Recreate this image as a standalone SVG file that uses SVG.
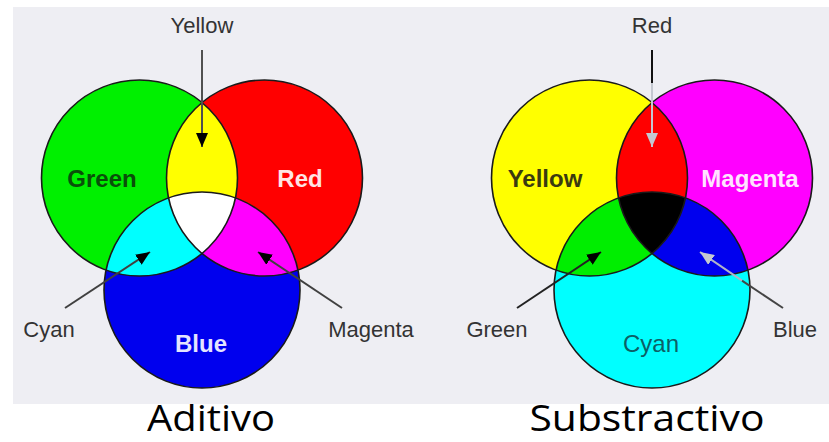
<svg xmlns="http://www.w3.org/2000/svg" width="829" height="442" viewBox="0 0 829 442">
<style>
.out{fill:none;stroke:#1a1a1a;stroke-width:1.6}
.lbl{font-family:"Liberation Sans",Arial,sans-serif;font-size:22px;fill:#333;text-anchor:middle}
.big{font-family:"Liberation Sans",Arial,sans-serif;font-size:24px;font-weight:bold;text-anchor:middle}
.title{font-family:"Open Sans","Noto Sans",sans-serif;font-size:36px;fill:#000;text-anchor:middle}
.conn{fill:none;stroke-width:2}
</style>
<defs>
<clipPath id="cG"><circle cx="139.5" cy="178" r="98"/></clipPath>
<clipPath id="cR"><circle cx="264.5" cy="178" r="98"/></clipPath>
<clipPath id="cY"><circle cx="589.5" cy="178" r="98"/></clipPath>
<clipPath id="cM"><circle cx="714.5" cy="178" r="98"/></clipPath>
<marker id="hb" viewBox="0 0 14 12" refX="14" refY="6" markerWidth="14" markerHeight="12" markerUnits="userSpaceOnUse" orient="auto"><path d="M0,0L14,6L0,12z" fill="#000"/></marker>
<marker id="hg" viewBox="0 0 14 12" refX="14" refY="6" markerWidth="14" markerHeight="12" markerUnits="userSpaceOnUse" orient="auto"><path d="M0,0L14,6L0,12z" fill="#c4c8d0"/></marker>
</defs>
<rect x="13" y="7" width="816" height="397" fill="#eeeef3"/>

<g id="additive">
<g id="add-green"><circle cx="139.5" cy="178" r="98" fill="#00f000"/></g>
<g id="add-red"><circle cx="264.5" cy="178" r="98" fill="#ff0000"/></g>
<g id="add-blue"><circle cx="202" cy="290" r="98" fill="#0000ee"/></g>
<g id="add-yellow"><circle cx="264.5" cy="178" r="98" fill="#ffff00" clip-path="url(#cG)"/></g>
<g id="add-cyan"><circle cx="202" cy="290" r="98" fill="#00ffff" clip-path="url(#cG)"/></g>
<g id="add-magenta"><circle cx="202" cy="290" r="98" fill="#ff00ff" clip-path="url(#cR)"/></g>
<g id="add-white" clip-path="url(#cR)"><circle cx="202" cy="290" r="98" fill="#ffffff" clip-path="url(#cG)"/></g>
<circle class="out" cx="139.5" cy="178" r="98"/>
<circle class="out" cx="264.5" cy="178" r="98"/>
<circle class="out" cx="202" cy="290" r="98"/>
<text class="big" x="102" y="187" fill="#0a4f0a">Green</text>
<text class="big" x="300" y="187" fill="#ffe4e4">Red</text>
<text class="big" x="201" y="352" fill="#e4e4ff">Blue</text>
</g>

<g id="subtractive">
<g id="sub-yellow"><circle cx="589.5" cy="178" r="98" fill="#ffff00"/></g>
<g id="sub-magenta"><circle cx="714.5" cy="178" r="98" fill="#ff00ff"/></g>
<g id="sub-cyan"><circle cx="652" cy="290" r="98" fill="#00ffff"/></g>
<g id="sub-red"><circle cx="714.5" cy="178" r="98" fill="#ff0000" clip-path="url(#cY)"/></g>
<g id="sub-green"><circle cx="652" cy="290" r="98" fill="#00ee00" clip-path="url(#cY)"/></g>
<g id="sub-blue"><circle cx="652" cy="290" r="98" fill="#0000ee" clip-path="url(#cM)"/></g>
<g id="sub-black" clip-path="url(#cM)"><circle cx="652" cy="290" r="98" fill="#000000" clip-path="url(#cY)"/></g>
<circle class="out" cx="589.5" cy="178" r="98"/>
<circle class="out" cx="714.5" cy="178" r="98"/>
<circle class="out" cx="652" cy="290" r="98"/>
<text class="big" x="545" y="187" fill="#3a3a10">Yellow</text>
<text class="big" x="750" y="187" fill="#ffe4ff">Magenta</text>
<text class="lbl" x="651" y="352" style="font-size:24px;fill:#0d5f66">Cyan</text>
</g>

<g id="connectors">
<line class="conn" x1="202" y1="50" x2="202" y2="147" stroke="#505050" marker-end="url(#hb)"/>
<line class="conn" x1="65" y1="308" x2="150" y2="252" stroke="#404040" marker-end="url(#hb)"/>
<line class="conn" x1="342" y1="308" x2="258" y2="252" stroke="#404040" marker-end="url(#hb)"/>
<line class="conn" x1="652" y1="50" x2="652" y2="83" stroke="#111"/>
<line class="conn" x1="652" y1="83" x2="652" y2="147" stroke="#c4c8d0" marker-end="url(#hg)"/>
<line class="conn" x1="517" y1="308" x2="601" y2="252" stroke="#222" marker-end="url(#hb)"/>
<line class="conn" x1="783" y1="308" x2="742" y2="280.7" stroke="#444"/>
<line class="conn" x1="742" y1="280.7" x2="700" y2="252" stroke="#b0b4c8" marker-end="url(#hg)"/>
</g>

<g id="labels">
<text class="lbl" x="202" y="33">Yellow</text>
<text class="lbl" x="49" y="337">Cyan</text>
<text class="lbl" x="371" y="337">Magenta</text>
<text class="lbl" x="652" y="33">Red</text>
<text class="lbl" x="497" y="337">Green</text>
<text class="lbl" x="795" y="337">Blue</text>
<text class="title" x="211" y="431" textLength="128" lengthAdjust="spacingAndGlyphs">Aditivo</text>
<text class="title" x="647" y="431" textLength="235" lengthAdjust="spacingAndGlyphs">Substractivo</text>
</g>
</svg>
